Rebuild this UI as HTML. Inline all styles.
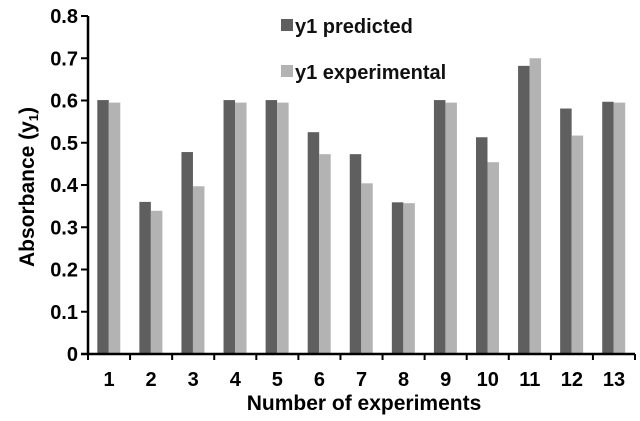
<!DOCTYPE html>
<html><head><meta charset="utf-8"><style>
body{margin:0;background:#fff}
svg{display:block;font-family:"Liberation Sans",Arial,sans-serif;font-weight:bold}
</style></head><body>
<svg id="chart" width="640" height="421" viewBox="0 0 640 421">
<g id="bars"></g>
<g id="axes"></g>
<g>
<rect x="281" y="19" width="12" height="12" fill="#5f5f5f"/>
<text x="295" y="33" font-size="20" fill="#111">y1 predicted</text>
<rect x="281" y="65" width="12" height="12" fill="#b3b3b3"/>
<text x="295" y="79" font-size="20" fill="#111">y1 experimental</text>
</g>
<text x="364" y="410" text-anchor="middle" font-size="21" fill="#000">Number of experiments</text>
<text transform="translate(34,187) rotate(-90)" text-anchor="middle" font-size="21" fill="#000">Absorbance (y<tspan font-size="13" dy="4">1</tspan><tspan dy="-4">)</tspan></text>
</svg>
<script>
const categories=["1","2","3","4","5","6","7","8","9","10","11","12","13"];
const predicted=[0.601,0.360,0.478,0.601,0.601,0.525,0.473,0.359,0.601,0.513,0.682,0.581,0.597];
const experimental=[0.595,0.339,0.397,0.595,0.595,0.473,0.404,0.357,0.595,0.454,0.700,0.517,0.595];
const yTicks=[0,0.1,0.2,0.3,0.4,0.5,0.6,0.7,0.8];
const yTickLabels=["0","0.1","0.2","0.3","0.4","0.5","0.6","0.7","0.8"];
const NS="http://www.w3.org/2000/svg";
const x0=88,x1=635,yB=354,yT=16,yMax=0.8;
const band=(x1-x0)/categories.length;
const yS=v=>yB-(v/yMax)*(yB-yT);
const xS=i=>x0+i*band;
const bw=11.5,off=9.3;
const bars=document.getElementById('bars'),axes=document.getElementById('axes');
function mk(t,a,p){const e=document.createElementNS(NS,t);for(const k in a)e.setAttribute(k,a[k]);p.appendChild(e);return e;}
categories.forEach((c,i)=>{
 let r=mk('rect',{x:xS(i)+off,y:yS(predicted[i]),width:bw,height:yB-yS(predicted[i]),fill:'#5f5f5f'},bars);
 
 
 let r2=mk('rect',{x:xS(i)+off+bw,y:yS(experimental[i]),width:bw,height:yB-yS(experimental[i]),fill:'#b3b3b3'},bars);
 
 
 let t=mk('text',{x:xS(i)+band/2,y:386,'text-anchor':'middle','font-size':'20',fill:'#000'},axes);
 t.textContent=c;
 
 
});
for(let i=0;i<=categories.length;i++){
 let l=mk('line',{x1:xS(i),x2:xS(i),y1:yB,y2:yB+6,stroke:'#000','stroke-width':2},axes);
 
 
}
yTicks.forEach((v,i)=>{
 let l=mk('line',{x1:x0-7,x2:x0,y1:yS(v),y2:yS(v),stroke:'#000','stroke-width':2},axes);
 
 
 let t=mk('text',{x:x0-10,y:yS(v)+7,'text-anchor':'end','font-size':'20',fill:'#000'},axes);
 t.textContent=yTickLabels[i];
 
 
});
let ya=mk('line',{x1:x0,x2:x0,y1:yT,y2:yB+1,stroke:'#000','stroke-width':2.5},axes);


let xa=mk('line',{x1:x0-7,x2:x1,y1:yB,y2:yB,stroke:'#000','stroke-width':2.5},axes);


</script>
</body></html>
